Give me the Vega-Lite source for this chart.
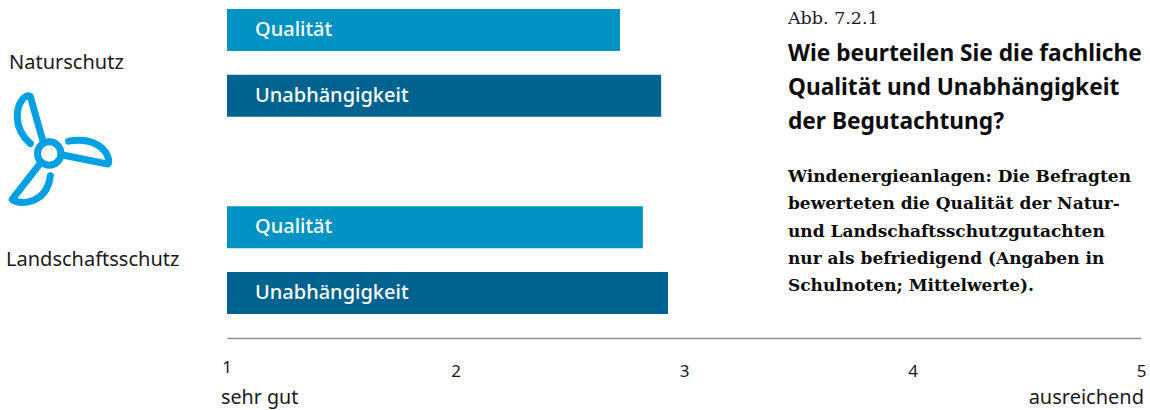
{
  "$schema": "https://vega.github.io/schema/vega-lite/v6.json",
  "width": 914,
  "height": 338,
  "padding": {"left": 227, "top": 0, "right": 9, "bottom": 72},
  "autosize": {"type": "none"},
  "background": "white",
  "config": {"view": {"stroke": null}},
  "resolve": {"scale": {"y": "independent", "color": "independent"}},
  "datasets": {
    "noten": [
      {"zeile": "N-Q", "bereich": "Naturschutz", "kriterium": "Qualität", "note": 2.72},
      {"zeile": "N-U", "bereich": "Naturschutz", "kriterium": "Unabhängigkeit", "note": 2.9},
      {"zeile": "L-Q", "bereich": "Landschaftsschutz", "kriterium": "Qualität", "note": 2.82},
      {"zeile": "L-U", "bereich": "Landschaftsschutz", "kriterium": "Unabhängigkeit", "note": 2.93}
    ],
    "abbildung": [{"t": "Abb. 7.2.1"}],
    "frage": [
      {"n": 1, "t": "Wie beurteilen Sie die fachliche"},
      {"n": 2, "t": "Qualität und Unabhängigkeit"},
      {"n": 3, "t": "der Begutachtung?"}
    ],
    "befund": [
      {"n": 1, "t": "Windenergieanlagen: Die Befragten"},
      {"n": 2, "t": "bewerteten die Qualität der Natur-"},
      {"n": 3, "t": "und Landschaftsschutzgutachten"},
      {"n": 4, "t": "nur als befriedigend (Angaben in"},
      {"n": 5, "t": "Schulnoten; Mittelwerte)."}
    ],
    "skala": [
      {"note": 1, "t": "sehr gut", "ausrichtung": "links"},
      {"note": 5, "t": "ausreichend", "ausrichtung": "rechts"}
    ],
    "beste": [{"note": 1, "t": "1"}],
    "symbol": [{"name": "Windrad"}],
    "natur": [{"name": "Naturschutz"}],
    "landschaft": [{"name": "Landschaftsschutz"}]
  },
  "layer": [
    {
      "data": {"name": "noten"},
      "mark": {"type": "bar"},
      "encoding": {
        "x": {
          "field": "note",
          "type": "quantitative",
          "scale": {"domain": [1, 5], "zero": false, "nice": false},
          "axis": {
            "values": [2, 3, 4, 5],
            "title": null,
            "grid": false,
            "ticks": false,
            "domainColor": "#8c8c8c",
            "domainWidth": 1.5,
            "labelFont": "Noto Sans",
            "labelFontSize": 17,
            "labelColor": "#1a1a1a",
            "labelPadding": 33,
            "labelBaseline": "middle",
            "labelFlush": false,
            "format": "d"
          }
        },
        "x2": {"datum": 1},
        "y": {
          "field": "zeile",
          "type": "nominal",
          "axis": null,
          "scale": {
            "type": "band",
            "domain": ["N-Q", "N-U", "Abstand", "L-Q", "L-U"],
            "range": [9, 314],
            "paddingInner": 0.36,
            "paddingOuter": 0
          }
        },
        "color": {
          "field": "kriterium",
          "type": "nominal",
          "legend": null,
          "scale": {"domain": ["Qualität", "Unabhängigkeit"], "range": ["#0093c4", "#00628f"]}
        }
      }
    },
    {
      "data": {"name": "noten"},
      "mark": {"type": "text", "align": "left", "baseline": "middle", "font": "Noto Sans", "fontSize": 20, "fontWeight": 500, "color": "white"},
      "encoding": {
        "x": {"datum": 1.1225},
        "y": {
          "field": "zeile",
          "type": "nominal",
          "axis": null,
          "scale": {
            "type": "band",
            "domain": ["N-Q", "N-U", "Abstand", "L-Q", "L-U"],
            "range": [9, 314],
            "paddingInner": 0.36,
            "paddingOuter": 0
          }
        },
        "text": {"field": "kriterium"}
      }
    },
    {
      "data": {"name": "natur"},
      "mark": {"type": "text", "align": "left", "baseline": "middle", "font": "Noto Sans", "fontSize": 20, "color": "#1a1a1a"},
      "encoding": {
        "x": {"datum": 0.046},
        "y": {"field": "name", "type": "nominal", "axis": null, "scale": {"type": "point", "range": [63, 63], "padding": 0}},
        "text": {"field": "name"}
      }
    },
    {
      "data": {"name": "landschaft"},
      "mark": {"type": "text", "align": "left", "baseline": "middle", "font": "Noto Sans", "fontSize": 20, "color": "#1a1a1a"},
      "encoding": {
        "x": {"datum": 0.033},
        "y": {"field": "name", "type": "nominal", "axis": null, "scale": {"type": "point", "range": [260, 260], "padding": 0}},
        "text": {"field": "name"}
      }
    },
    {
      "data": {"name": "symbol"},
      "mark": {
        "type": "point",
        "filled": false,
        "color": "#00a0e3",
        "opacity": 1,
        "strokeWidth": 7,
        "strokeCap": "round",
        "strokeJoin": "round",
        "size": 13800,
        "shape": "M .2 0 A .2 .2 0 1 1 -.2 0 A .2 .2 0 1 1 .2 0 Z M -.11 -.22 L -.322 -.972 C -.417 -1.028 -.556 -.833 -.544 -.611 C -.539 -.444 -.444 -.278 -.322 -.167 M .25 .03 L 1 .18 C 1.06 .08 .9 -.3 .33 -.21 M -.17 .19 L -.63 .78 C -.55 .87 -.05 .9 .02 .38"
      },
      "encoding": {
        "x": {"datum": 0.222},
        "y": {"field": "name", "type": "nominal", "axis": null, "scale": {"type": "point", "range": [153.5, 153.5], "padding": 0}}
      }
    },
    {
      "data": {"name": "abbildung"},
      "mark": {"type": "text", "align": "left", "baseline": "middle", "font": "DejaVu Serif", "fontSize": 17.5, "color": "#1a1a1a"},
      "encoding": {
        "x": {"datum": 3.455},
        "y": {"field": "t", "type": "nominal", "axis": null, "scale": {"type": "point", "range": [19, 19], "padding": 0}},
        "text": {"field": "t"}
      }
    },
    {
      "data": {"name": "frage"},
      "mark": {"type": "text", "align": "left", "baseline": "middle", "font": "Noto Sans", "fontSize": 22.7, "fontWeight": 700, "color": "#0d0d0d"},
      "encoding": {
        "x": {"datum": 3.455},
        "y": {"field": "n", "type": "ordinal", "axis": null, "scale": {"type": "point", "range": [54, 122], "padding": 0}},
        "text": {"field": "t"}
      }
    },
    {
      "data": {"name": "befund"},
      "mark": {"type": "text", "align": "left", "baseline": "middle", "font": "DejaVu Serif", "fontSize": 17, "fontWeight": 700, "color": "#0d0d0d"},
      "encoding": {
        "x": {"datum": 3.455},
        "y": {"field": "n", "type": "ordinal", "axis": null, "scale": {"type": "point", "range": [177, 286], "padding": 0}},
        "text": {"field": "t"}
      }
    },
    {
      "data": {"name": "beste"},
      "mark": {"type": "text", "align": "center", "baseline": "middle", "font": "Noto Sans", "fontSize": 17, "color": "#1a1a1a"},
      "encoding": {
        "x": {"field": "note", "type": "quantitative"},
        "y": {"field": "t", "type": "nominal", "axis": null, "scale": {"type": "point", "range": [368, 368], "padding": 0}},
        "text": {"field": "t"}
      }
    },
    {
      "data": {"name": "skala"},
      "transform": [{"filter": "datum.ausrichtung === 'links'"}],
      "mark": {"type": "text", "align": "left", "baseline": "middle", "dx": -6, "font": "Noto Sans", "fontSize": 19.7, "color": "#1a1a1a"},
      "encoding": {
        "x": {"field": "note", "type": "quantitative"},
        "y": {"field": "t", "type": "nominal", "axis": null, "scale": {"type": "point", "range": [398, 398], "padding": 0}},
        "text": {"field": "t"}
      }
    },
    {
      "data": {"name": "skala"},
      "transform": [{"filter": "datum.ausrichtung === 'rechts'"}],
      "mark": {"type": "text", "align": "right", "baseline": "middle", "dx": 3, "font": "Noto Sans", "fontSize": 20, "color": "#1a1a1a"},
      "encoding": {
        "x": {"field": "note", "type": "quantitative"},
        "y": {"field": "t", "type": "nominal", "axis": null, "scale": {"type": "point", "range": [398, 398], "padding": 0}},
        "text": {"field": "t"}
      }
    }
  ]
}
